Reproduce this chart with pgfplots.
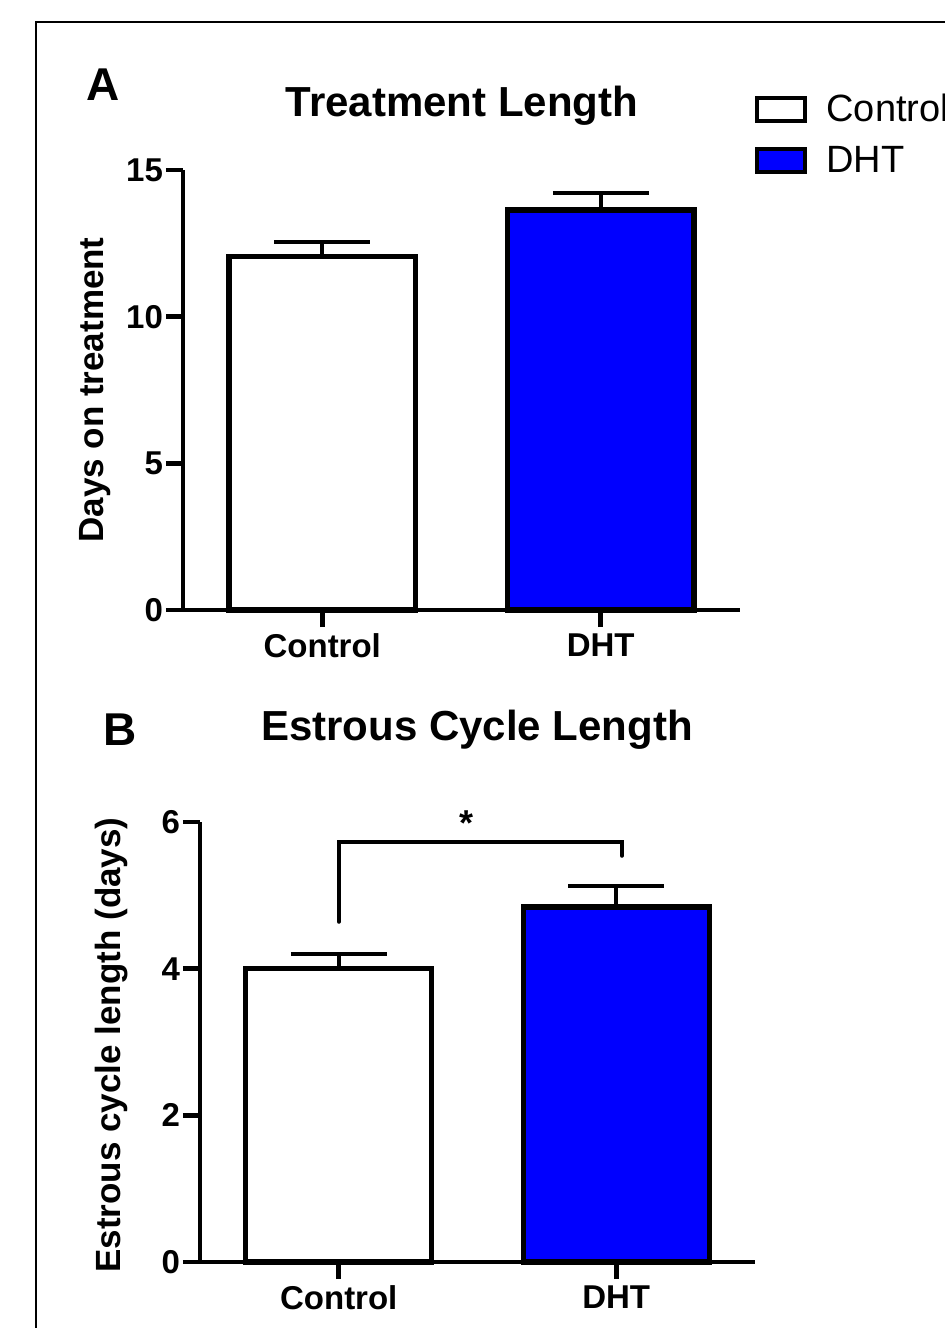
\documentclass[border=0pt]{standalone}
\usepackage{fontspec}
\setmainfont{Liberation Sans}
\usepackage{pgfplots}
\pgfplotsset{compat=1.18}
\definecolor{dhtblue}{RGB}{0,0,255}

\pgfplotsset{
  prism/.style={
    scale only axis, enlargelimits=false, clip=false,
    axis lines=left, axis line style={-, line width=2.4pt, black},
    tick align=outside, major tick length=8.5pt,
    tick style={line width=2.4pt, black},
    xmin=-0.5, xmax=1.5, xtick={0,1}, xticklabels={Control,DHT},
    ticklabel style={font=\fontsize{16.5}{18}\selectfont\bfseries},
    yticklabel style={xshift=2pt},
    /pgf/number format/assume math mode=true,
  },
  prismbar/.style={ybar, bar width=0.67, bar shift=0pt, draw=black,
    line width=2.6pt, fill=#1, forget plot,
    /pgfplots/error bars/y dir=plus, /pgfplots/error bars/y explicit,
    /pgfplots/error bars/error mark=|,
    /pgfplots/error bars/error bar style={line width=2pt, black},
    /pgfplots/error bars/error mark options={line width=2pt, mark size=24pt, black}},
}

\begin{document}
\begin{tikzpicture}
\path[use as bounding box] (0pt,0pt) rectangle (472pt,-664pt);
\draw[line width=1pt] (18pt,-700pt) -- (18pt,-11pt) -- (520pt,-11pt);

% panel A
\node[font=\fontsize{23}{26}\selectfont\bfseries] at (51.5pt,-42.5pt) {A};
\node[font=\fontsize{21}{24}\selectfont\bfseries] at (231pt,-53pt) {Treatment Length};
\node[font=\fontsize{17.5}{20}\selectfont\bfseries, rotate=90] at (47.5pt,-195pt) {Days on treatment};

\begin{axis}[prism, at={(91.5pt,-305pt)}, anchor=south west,
    width=278.5pt, height=220pt, ymin=0, ymax=15, ytick={0,5,10,15},
    legend style={at={(1.027,1.174)}, anchor=north west, draw=none, fill=none,
      inner sep=0pt, font=\fontsize{19}{21}\selectfont, row sep=10.75pt,
      nodes={inner sep=0pt},
      /tikz/every odd column/.append style={column sep=9.5pt}},
    legend cell align=left]
\addlegendimage{legend image code/.code={\draw[fill=white, draw=black, line width=2pt] (0pt,-5.75pt) rectangle (24pt,5.75pt);}}
\addlegendentry{Control}
\addlegendimage{legend image code/.code={\draw[fill=dhtblue, draw=black, line width=2pt] (0pt,-5.75pt) rectangle (24pt,5.75pt);}}
\addlegendentry{DHT}
\addplot[prismbar=white] coordinates {(0,12.05) +- (0,0.51)};
\addplot[prismbar=dhtblue] coordinates {(1,13.64) +- (0,0.58)};
\end{axis}

% panel B
\node[font=\fontsize{23}{26}\selectfont\bfseries] at (60pt,-365pt) {B};
\node[font=\fontsize{21}{24}\selectfont\bfseries] at (238.5pt,-365pt) {Estrous Cycle Length};
\node[font=\fontsize{17.5}{20}\selectfont\bfseries, rotate=90] at (56pt,-522.5pt) {Estrous cycle length (days)};

\begin{axis}[prism, at={(100pt,-631pt)}, anchor=south west,
    width=277.5pt, height=220pt, ymin=0, ymax=6, ytick={0,2,4,6}]
\addplot[prismbar=white] coordinates {(0,4.00) +- (0,0.20)};
\addplot[prismbar=dhtblue] coordinates {(1,4.84) +- (0,0.29)};
\draw[line width=2pt, line cap=round] (axis cs:0,4.64) -- (axis cs:0,5.73)
  -- (axis cs:1.02,5.73) -- (axis cs:1.02,5.54);
\node[font=\fontsize{18}{20}\selectfont\bfseries] at (axis cs:0.46,5.98) {*};
\end{axis}
\end{tikzpicture}
\end{document}
